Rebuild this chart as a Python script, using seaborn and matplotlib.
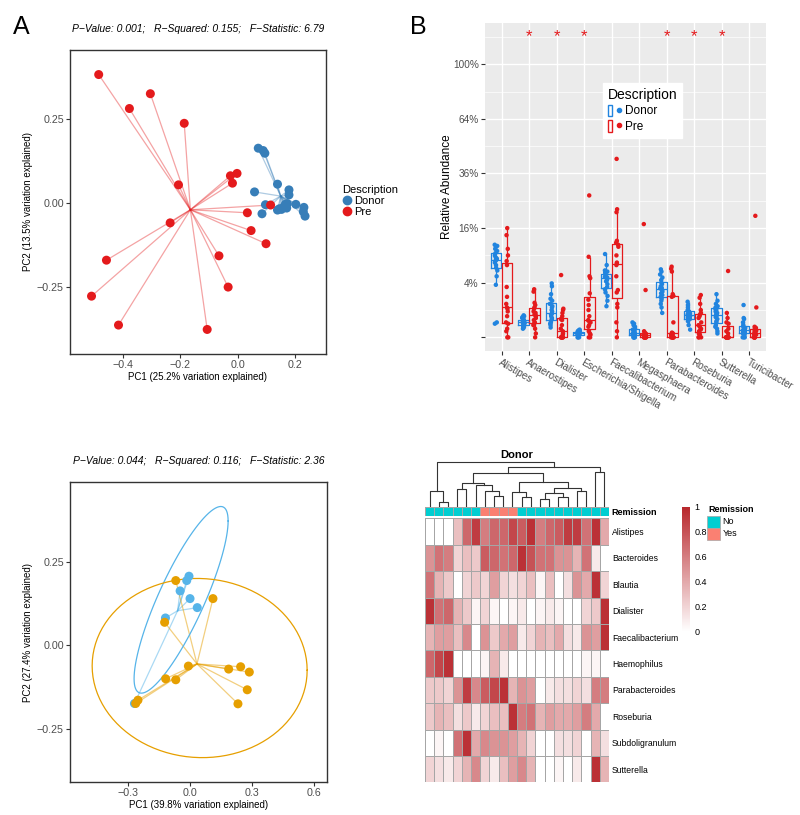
import numpy as np
import pandas as pd
import seaborn as sns
import matplotlib.pyplot as plt
from matplotlib.colors import LinearSegmentedColormap, ListedColormap
from matplotlib.lines import Line2D
from matplotlib.patches import Patch, Rectangle
from matplotlib.legend_handler import HandlerTuple
from matplotlib.ticker import FuncFormatter

# ---- panel A: PCoA, donor vs pre ----
a_donor_pc1 = [0.071, 0.088, 0.094, 0.138, 0.178, 0.178, 0.058, 0.096, 0.084, 0.138,
               0.152, 0.170, 0.172, 0.202, 0.230, 0.228, 0.234, 0.160, 0.165, 0.145]
a_donor_pc2 = [0.162, 0.155, 0.147, 0.055, 0.038, 0.023, 0.032, -0.006, -0.033, -0.022,
               -0.020, -0.016, -0.003, -0.005, -0.014, -0.027, -0.040, -0.013, -0.005, -0.018]
a_pre_pc1 = [-0.485, -0.305, -0.378, -0.187, -0.207, -0.026, -0.003, -0.019, 0.114, 0.033,
             0.046, 0.098, -0.066, -0.034, -0.107, -0.236, -0.458, -0.510, -0.416]
a_pre_pc2 = [0.381, 0.324, 0.280, 0.236, 0.053, 0.080, 0.087, 0.058, -0.007, -0.030,
             -0.083, -0.122, -0.158, -0.251, -0.377, -0.060, -0.171, -0.278, -0.364]
a_stats = "P\u2212Value: 0.001;   R\u2212Squared: 0.155;   F\u2212Statistic: 6.79"
a_xlab = "PC1 (25.2% variation explained)"
a_ylab = "PC2 (13.5% variation explained)"

# ---- panel B: relative abundance (%) per genus ----
genera = ["Alistipes", "Anaerostipes", "Dialister", "Escherichia/Shigella", "Faecalibacterium",
          "Megasphaera", "Parabacteroides", "Roseburia", "Sutterella", "Turicibacter"]
donor_pct = [
    [0.25, 0.3, 3.7, 5.0, 6.0, 6.5, 7.0, 7.5, 7.8, 8.0, 8.2, 8.3, 8.6, 9.0, 9.5, 10.0, 10.5, 11.0, 11.2, 11.5],
    [0.1, 0.12, 0.15, 0.15, 0.18, 0.2, 0.22, 0.25, 0.28, 0.3, 0.3, 0.32, 0.35, 0.38, 0.4, 0.45, 0.5, 0.55, 0.6, 0.65],
    [0.13, 0.2, 0.25, 0.3, 0.35, 0.45, 0.5, 0.6, 0.7, 0.75, 0.9, 1.0, 1.2, 1.3, 1.5, 1.8, 2.0, 2.5, 3.5, 3.9],
    [0.0, 0.0, 0.0, 0.01, 0.01, 0.01, 0.02, 0.02, 0.02, 0.02, 0.03, 0.03, 0.03, 0.04, 0.04, 0.05, 0.05, 0.06, 0.07, 0.08],
    [1.3, 1.8, 2.3, 2.7, 3.1, 3.4, 3.8, 4.2, 4.4, 4.6, 4.8, 4.8, 4.9, 5.0, 5.3, 5.6, 5.8, 6.0, 7.0, 9.3],
    [0, 0, 0, 0, 0, 0.01, 0.01, 0.01, 0.02, 0.02, 0.03, 0.04, 0.05, 0.06, 0.08, 0.1, 0.15, 0.2, 0.25, 0.3],
    [0.8, 1.2, 1.5, 1.8, 2.0, 2.2, 2.4, 2.6, 2.8, 3.0, 3.2, 3.3, 3.5, 3.8, 4.0, 4.4, 4.8, 5.3, 5.8, 6.2],
    [0.08, 0.2, 0.35, 0.4, 0.45, 0.48, 0.5, 0.55, 0.6, 0.65, 0.7, 0.75, 0.8, 0.85, 0.9, 0.95, 1.0, 1.2, 1.4, 1.7],
    [0.02, 0.05, 0.1, 0.15, 0.2, 0.3, 0.35, 0.45, 0.55, 0.65, 0.7, 0.8, 0.9, 1.0, 1.1, 1.2, 1.3, 1.5, 1.8, 2.5],
    [0, 0, 0, 0.01, 0.02, 0.03, 0.04, 0.05, 0.06, 0.07, 0.08, 0.1, 0.1, 0.12, 0.15, 0.2, 0.3, 0.45, 0.5, 1.4],
]
pre_pct = [
    [0, 0, 0.05, 0.1, 0.25, 0.3, 0.6, 0.9, 1.1, 1.2, 1.5, 2.2, 3.4, 7.0, 7.8, 9.0, 10.5, 14.0, 16.0],
    [0, 0.02, 0.1, 0.2, 0.25, 0.3, 0.4, 0.5, 0.6, 0.67, 0.7, 0.8, 0.9, 1.1, 1.2, 1.4, 1.6, 2.8, 3.1],
    [0, 0, 0, 0, 0, 0, 0, 0.01, 0.02, 0.05, 0.1, 0.2, 0.4, 0.45, 0.6, 0.8, 1.0, 1.1, 5.2],
    [0, 0, 0.01, 0.02, 0.05, 0.15, 0.2, 0.3, 0.37, 0.4, 0.6, 1.0, 1.4, 1.9, 2.6, 4.7, 5.0, 8.7, 27.0],
    [0, 0.05, 0.3, 1.2, 1.5, 2.7, 3.0, 5.0, 7.0, 7.3, 7.5, 9.0, 11.0, 11.5, 12.0, 12.5, 21.0, 22.0, 42.7],
    [0, 0, 0, 0, 0, 0, 0, 0, 0.01, 0.01, 0.01, 0.01, 0.01, 0.02, 0.02, 0.02, 0.05, 3.0, 17.2],
    [0, 0, 0, 0, 0, 0, 0, 0.01, 0.01, 0.02, 0.02, 0.03, 0.3, 2.2, 2.3, 2.5, 5.8, 6.3, 6.7],
    [0, 0, 0, 0.01, 0.02, 0.05, 0.08, 0.1, 0.15, 0.2, 0.3, 0.5, 0.6, 0.7, 0.8, 1.0, 1.5, 2.1, 2.4],
    [0, 0, 0, 0, 0, 0, 0, 0, 0, 0, 0, 0.02, 0.05, 0.1, 0.25, 0.3, 0.5, 0.8, 5.9],
    [0, 0, 0, 0, 0, 0, 0.01, 0.01, 0.02, 0.02, 0.03, 0.05, 0.06, 0.08, 0.1, 0.12, 0.15, 1.2, 19.8],
]
signif = ["Anaerostipes", "Dialister", "Escherichia/Shigella", "Parabacteroides", "Roseburia", "Sutterella"]
pct_ticks = [4, 16, 36, 64, 100]

# ---- panel C: PCoA within pre by remission ----
c_donor_pc1 = [-0.005, -0.016, -0.048, 0.0, 0.035, -0.119, -0.269]
c_donor_pc2 = [0.207, 0.194, 0.163, 0.140, 0.113, 0.082, -0.174]
c_pre_pc1 = [-0.069, 0.111, -0.123, -0.008, 0.187, 0.245, 0.287, 0.277, 0.232, -0.118, -0.069, -0.252, -0.263]
c_pre_pc2 = [0.194, 0.140, 0.069, -0.062, -0.071, -0.064, -0.080, -0.133, -0.175, -0.100, -0.103, -0.164, -0.174]
c_stats = "P\u2212Value: 0.044;   R\u2212Squared: 0.116;   F\u2212Statistic: 2.36"
c_xlab = "PC1 (39.8% variation explained)"
c_ylab = "PC2 (27.4% variation explained)"

# ---- panel D: donor heatmap ----
heat_rows = ["Alistipes", "Bacteroides", "Blautia", "Dialister", "Faecalibacterium",
             "Haemophilus", "Parabacteroides", "Roseburia", "Subdoligranulum", "Sutterella"]
heat_values = [
    [0.0, 0.0, 0.0, 0.3, 0.7, 0.9, 0.6, 0.7, 0.7, 0.85, 0.75, 0.95, 0.6, 0.7, 0.75, 0.9, 0.9, 0.65, 0.95, 0.4],
    [0.5, 0.65, 0.6, 0.2, 0.3, 0.25, 0.75, 0.7, 0.65, 0.7, 0.95, 0.8, 0.65, 0.65, 0.5, 0.5, 0.35, 0.65, 0.1, 0.0],
    [0.65, 0.35, 0.25, 0.0, 0.2, 0.25, 0.2, 0.45, 0.2, 0.15, 0.2, 0.3, 0.05, 0.3, 0.0, 0.15, 0.5, 0.4, 0.95, 0.2],
    [0.95, 0.65, 0.7, 0.35, 0.25, 0.05, 0.2, 0.05, 0.0, 0.05, 0.1, 0.0, 0.05, 0.1, 0.05, 0.0, 0.0, 0.2, 0.25, 0.95],
    [0.35, 0.45, 0.45, 0.3, 0.55, 0.0, 0.5, 0.25, 0.4, 0.45, 0.1, 0.2, 0.35, 0.3, 0.4, 0.15, 0.1, 0.5, 0.45, 0.95],
    [0.7, 0.85, 0.95, 0.0, 0.0, 0.0, 0.05, 0.35, 0.1, 0.0, 0.0, 0.0, 0.0, 0.0, 0.0, 0.0, 0.0, 0.05, 0.05, 0.0],
    [0.25, 0.25, 0.2, 0.5, 0.9, 0.55, 0.75, 0.85, 0.95, 0.35, 0.5, 0.45, 0.0, 0.1, 0.15, 0.15, 0.2, 0.15, 0.6, 0.6],
    [0.25, 0.35, 0.3, 0.15, 0.25, 0.1, 0.2, 0.3, 0.3, 0.95, 0.6, 0.65, 0.35, 0.45, 0.4, 0.4, 0.45, 0.6, 0.4, 0.0],
    [0.0, 0.05, 0.0, 0.65, 0.95, 0.4, 0.55, 0.5, 0.5, 0.45, 0.35, 0.2, 0.0, 0.0, 0.15, 0.15, 0.2, 0.0, 0.35, 0.15],
    [0.2, 0.15, 0.1, 0.2, 0.35, 0.55, 0.2, 0.1, 0.3, 0.45, 0.55, 0.35, 0.0, 0.0, 0.05, 0.0, 0.1, 0.0, 0.95, 0.35],
]
remission = [0, 0, 0, 0, 0, 0, 1, 1, 1, 1, 0, 0, 0, 0, 0, 0, 0, 0, 0, 0]
# column clustering: (left, right, height); new clusters numbered from 20
linkage = [(1, 2, 5), (0, 20, 15), (3, 4, 17.7), (7, 8, 10.7), (6, 23, 15), (5, 24, 21.7),
           (22, 25, 23.4), (10, 11, 9.4), (9, 27, 14), (12, 13, 7.4), (14, 15, 10), (29, 30, 13.5),
           (16, 17, 15), (31, 32, 18), (28, 33, 24.4), (26, 34, 33.4), (18, 19, 34), (35, 36, 39.4),
           (21, 37, 44.4)]

plt.rcParams["font.family"] = ["Liberation Sans", "DejaVu Sans"]
W, H = 800, 815
fig = plt.figure(figsize=(W / 100, H / 100), dpi=100)


def rect(x0, y0, x1, y1):
    return [x0 / W, 1 - y1 / H, (x1 - x0) / W, (y1 - y0) / H]


def fmt(d):
    return FuncFormatter(lambda v, _: f"{v:.{d}f}".replace("-", "\u2212"))


def cov_trob(xy, nu=5, maxit=25, tol=0.01):
    n, p = xy.shape
    loc = xy.mean(axis=0)
    w = np.ones(n)
    for _ in range(maxit):
        w0 = w
        X = xy - loc
        _, d, vt = np.linalg.svd(np.sqrt(w / w.sum())[:, None] * X, full_matrices=False)
        Q = ((X @ vt.T / d) ** 2).sum(axis=1)
        w = (nu + p) / (nu + Q)
        loc = (w[:, None] * xy).sum(axis=0) / w.sum()
        if np.all(np.abs(w - w0) < tol):
            break
    sx = np.sqrt(w)[:, None] * X
    return loc, sx.T @ sx / n


def pcoa(ax, df, palette, stats, xlab, ylab, xlim, ylim, xticks, yticks, alpha, ellipse=False):
    cent = df.groupby("group")[["pc1", "pc2"]].mean()
    for g, sub in df.groupby("group"):
        cx, cy = cent.loc[g]
        for x, y in zip(sub.pc1, sub.pc2):
            ax.plot([cx, x], [cy, y], color=palette[g], alpha=alpha, lw=0.9, zorder=1)
        if ellipse:
            xy = sub[["pc1", "pc2"]].to_numpy()
            center, shape = cov_trob(xy)
            d = len(xy) - 1
            radius = np.sqrt(2 * (d / 2) * (0.05 ** (-2 / d) - 1))
            t = np.linspace(0, 2 * np.pi, 101)
            circ = np.column_stack([np.cos(t), np.sin(t)])
            ell = center + radius * circ @ np.linalg.cholesky(shape).T
            ax.plot(ell[:, 0], ell[:, 1], color=palette[g], lw=0.9, zorder=2)
    sns.scatterplot(data=df, x="pc1", y="pc2", hue="group", palette=palette, s=42,
                    edgecolor="none", linewidth=0, ax=ax, zorder=3, legend=False)
    ax.set_xlim(xlim)
    ax.set_ylim(ylim)
    ax.set_xticks(xticks)
    ax.set_yticks(yticks)
    ax.xaxis.set_major_formatter(fmt(1))
    ax.yaxis.set_major_formatter(fmt(2))
    ax.set_xlabel(xlab, fontsize=7, labelpad=1.5)
    ax.set_ylabel(ylab, fontsize=7, labelpad=3)
    for s in ax.spines.values():
        s.set_color("#333333")
        s.set_linewidth(1)
    ax.tick_params(length=3, color="#333333", labelsize=7.7, labelcolor="#4D4D4D", pad=1.5)
    ax.text(0.5, 1.069, stats, transform=ax.transAxes, ha="center", va="center",
            fontsize=7.5, style="italic")


# ---- A ----
axA = fig.add_axes(rect(70, 50, 326, 354))
df_a = pd.DataFrame({
    "pc1": a_donor_pc1 + a_pre_pc1,
    "pc2": a_donor_pc2 + a_pre_pc2,
    "group": ["Donor"] * len(a_donor_pc1) + ["Pre"] * len(a_pre_pc1),
})
pal_a = {"Donor": "#377EB8", "Pre": "#E41A1C"}
pcoa(axA, df_a, pal_a, a_stats, a_xlab, a_ylab, (-0.585, 0.307), (-0.450, 0.454),
     [-0.4, -0.2, 0.0, 0.2], [-0.25, 0.0, 0.25], 0.4)
hA = [Line2D([], [], ls="none", marker="o", ms=6, color=pal_a[k]) for k in ["Donor", "Pre"]]
axA.legend(hA, ["Donor", "Pre"], title="Description", loc="upper left", bbox_to_anchor=(1.04, 0.575),
           frameon=False, fontsize=8, title_fontsize=8, handletextpad=0.1, labelspacing=0.1,
           borderpad=0, alignment="left", handlelength=1)

# ---- B ----
axB = fig.add_axes(rect(485, 23, 766, 351))
rows = []
for g, d, p in zip(genera, donor_pct, pre_pct):
    rows += [(g, "Donor", v) for v in d] + [(g, "Pre", v) for v in p]
df_b = pd.DataFrame(rows, columns=["genus", "group", "pct"])
df_b["sqrt_pct"] = np.sqrt(df_b["pct"])
pal_b = {"Donor": "#2184DF", "Pre": "#E41A1C"}
axB.set_facecolor("#EBEBEB")
axB.set_axisbelow(True)
sns.boxplot(data=df_b, x="genus", y="sqrt_pct", hue="group", order=genera, palette=pal_b,
            fill=False, showfliers=False, showcaps=False, width=0.8, gap=0.05, linewidth=0.9,
            ax=axB, legend=False)
np.random.seed(7)
sns.stripplot(data=df_b, x="genus", y="sqrt_pct", hue="group", order=genera, palette=pal_b,
              dodge=True, jitter=0.1, size=3.2, linewidth=0, ax=axB, legend=False, zorder=3)
for g in signif:
    axB.text(genera.index(g), 11.0, "*", color="#E41A1C", ha="center", va="center", fontsize=12)
axB.set_xlim(-0.6, 9.6)
axB.set_ylim(-0.5, 11.51)
axB.set_yticks([0] + [np.sqrt(v) for v in pct_ticks])
axB.set_yticklabels([""] + [f"{v}%" for v in pct_ticks])
axB.set_yticks(np.arange(1, 12, 2), minor=True)
axB.grid(which="major", color="white", lw=1)
axB.grid(which="minor", axis="y", color="white", lw=0.5)
axB.tick_params(which="minor", length=0)
axB.tick_params(which="major", length=3, color="#333333", labelsize=7.2, labelcolor="#4D4D4D", pad=1.5)
for s in axB.spines.values():
    s.set_visible(False)
axB.set_xticks(range(len(genera)))
axB.set_xticklabels(genera, rotation=-30, ha="left", va="top", rotation_mode="anchor")
axB.set_xlabel("")
axB.set_ylabel("Relative Abundance", fontsize=8.5, labelpad=0)
hB = [(Patch(facecolor="none", edgecolor=pal_b[k], lw=1),
       Line2D([], [], ls="none", marker="o", ms=3, color=pal_b[k])) for k in ["Donor", "Pre"]]
axB.legend(hB, ["Donor", "Pre"], handler_map={tuple: HandlerTuple(ndivide=None)}, title="Description",
           loc="upper left", bbox_to_anchor=(0.42, 0.817), borderaxespad=0, frameon=True,
           fancybox=False, edgecolor="white", facecolor="white", framealpha=1, fontsize=8.5,
           title_fontsize=10, handlelength=1.1, handleheight=1.1, borderpad=0.4, labelspacing=0.25,
           handletextpad=0.4, alignment="left")

# ---- C ----
axC = fig.add_axes(rect(70, 482, 327, 782))
df_c = pd.DataFrame({
    "pc1": c_donor_pc1 + c_pre_pc1,
    "pc2": c_donor_pc2 + c_pre_pc2,
    "group": ["Donor"] * len(c_donor_pc1) + ["Pre"] * len(c_pre_pc1),
})
pal_c = {"Donor": "#56B4E9", "Pre": "#E69F00"}
pcoa(axC, df_c, pal_c, c_stats, c_xlab, c_ylab, (-0.581, 0.663), (-0.409, 0.489),
     [-0.3, 0.0, 0.3, 0.6], [-0.25, 0.0, 0.25], 0.5, ellipse=True)

# ---- D ----
axDen = fig.add_axes(rect(425, 461, 609, 506.7))
axAnn = fig.add_axes(rect(425, 506.7, 609, 516))
axH = fig.add_axes(rect(425, 518.3, 609, 782.3))
axCB = fig.add_axes(rect(681.7, 506.7, 690, 631.7))

cmap = LinearSegmentedColormap.from_list("wr", ["#FFFFFF", "#B8272C"])
heat_df = pd.DataFrame(heat_values, index=heat_rows)
sns.heatmap(heat_df, ax=axH, cmap=cmap, vmin=0, vmax=1, linewidths=0.6, linecolor="#A6A6A6",
            cbar_ax=axCB, xticklabels=False, yticklabels=True)
axH.yaxis.tick_right()
axH.tick_params(axis="y", length=0, pad=2, labelsize=6.2, labelrotation=0)
cbar = axH.collections[0].colorbar
cbar.outline.set_visible(False)
cbar.set_ticks([0, 0.2, 0.4, 0.6, 0.8, 1])
cbar.set_ticklabels(["0", "0.2", "0.4", "0.6", "0.8", "1"])
cbar.ax.tick_params(length=0, labelsize=6.5, pad=3)

ann_colors = {0: "#00CED1", 1: "#FA8072"}
sns.heatmap(pd.DataFrame([remission], index=["Remission"]), ax=axAnn,
            cmap=ListedColormap([ann_colors[0], ann_colors[1]]), vmin=0, vmax=1, cbar=False,
            linewidths=0.6, linecolor="#A6A6A6", xticklabels=False, yticklabels=True)
axAnn.yaxis.tick_right()
axAnn.tick_params(axis="y", length=0, pad=2, labelsize=6.5, labelrotation=0)
for t in axAnn.get_yticklabels():
    t.set_fontweight("bold")

pos = {i: i + 0.5 for i in range(len(remission))}
hgt = {i: 0.0 for i in range(len(remission))}
for k, (a, b, h) in enumerate(linkage):
    axDen.plot([pos[a], pos[a], pos[b], pos[b]], [hgt[a], h, h, hgt[b]], color="#333333", lw=0.8)
    pos[len(remission) + k] = (pos[a] + pos[b]) / 2
    hgt[len(remission) + k] = h
axDen.set_xlim(0, len(remission))
axDen.set_ylim(0, 45)
axDen.axis("off")
fig.text(517 / W, 1 - 454.7 / H, "Donor", ha="center", va="center", fontsize=8, fontweight="bold")

fig.text(708 / W, 1 - 509.5 / H, "Remission", ha="left", va="center", fontsize=6.5, fontweight="bold")
for i, lab in enumerate(["No", "Yes"]):
    y0 = 516 + i * 12.2
    fig.add_artist(Rectangle((707.3 / W, 1 - (y0 + 11.5) / H), 12.7 / W, 11.5 / H,
                             transform=fig.transFigure, facecolor=ann_colors[i],
                             edgecolor="#A6A6A6", lw=0.5))
    fig.text(722.5 / W, 1 - (y0 + 5.8) / H, lab, ha="left", va="center", fontsize=6.5)

fig.text(13 / W, 1 - 27 / H, "A", fontsize=18, va="center", ha="left")
fig.text(410 / W, 1 - 27 / H, "B", fontsize=18, va="center", ha="left")

fig.savefig("out.png", dpi=100)
